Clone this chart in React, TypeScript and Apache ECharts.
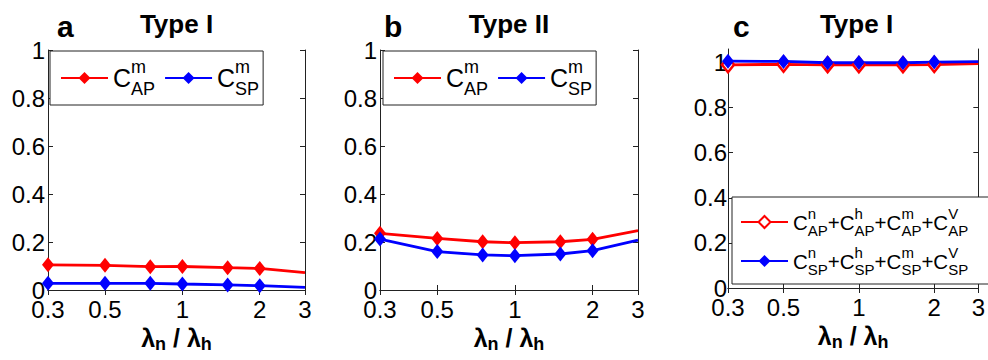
import React, { useEffect, useRef } from "react";
import * as echarts from "echarts";

const xValues = [0.3, 0.5, 0.75, 1, 1.5, 2, 3];
const xTicks = [0.3, 0.5, 1, 2, 3];
const yTicks = [0, 0.2, 0.4, 0.6, 0.8, 1];

const aAP = [0.105, 0.103, 0.097, 0.098, 0.093, 0.09, 0.072];
const aSP = [0.028, 0.028, 0.028, 0.025, 0.021, 0.018, 0.011];
const bAP = [0.236, 0.215, 0.201, 0.197, 0.201, 0.211, 0.247];
const bSP = [0.212, 0.16, 0.146, 0.143, 0.15, 0.164, 0.208];
const cAP = [0.99, 0.992, 0.99, 0.99, 0.99, 0.991, 0.995];
const cSP = [1.006, 1.005, 0.999, 1.0, 0.999, 1.002, 1.004];

const panelLetters = ["a", "b", "c"];
const panelTitles = ["Type I", "Type II", "Type I"];
const yMaxes = [1, 1, 1.06];

const FONT = "'Liberation Sans', Arial, Helvetica, sans-serif";
const AXIS = "#222";

const grids = [
  { left: 48, top: 50, width: 257, height: 240 },
  { left: 380, top: 50, width: 258, height: 240 },
  { left: 728, top: 49, width: 257, height: 239 },
];
const letterLeft = [57, 384, 733];

const richAB = {
  c: { fontSize: 25, fontFamily: FONT, color: "#000", lineHeight: 40, verticalAlign: "middle" },
  sup: { fontSize: 18, fontFamily: FONT, color: "#000", lineHeight: 16, verticalAlign: "top", width: 0, align: "left" },
  sub: { fontSize: 18, fontFamily: FONT, color: "#000", lineHeight: 22, verticalAlign: "bottom" },
};
const richC = {
  c: { fontSize: 20.5, fontFamily: FONT, color: "#000", lineHeight: 32, verticalAlign: "middle" },
  sup: { fontSize: 15, fontFamily: FONT, color: "#000", lineHeight: 12, verticalAlign: "top", width: 0, align: "left" },
  sub: { fontSize: 15, fontFamily: FONT, color: "#000", lineHeight: 16, verticalAlign: "bottom" },
};

function legendLabel(name: string): string {
  const [kind, sub] = name.trim().split("_");
  if (kind === "m") return `{c|C}{sup|m}{sub|${sub}}`;
  const sups = ["n", "h", "m", "V"];
  return sups.map((s, i) => `{c|${i ? "+C" : "C"}}{sup|${s}}{sub|${sub}}`).join("");
}

function lineSeries(name: string, values: number[], p: number, color: string, hollow = false) {
  return {
    type: "line",
    name,
    xAxisIndex: 2 * p,
    yAxisIndex: 2 * p,
    data: xValues.map((x, i) => ({
      value: [x, values[i]],
      symbol: i === xValues.length - 1 ? "none" : "diamond",
    })),
    symbol: "diamond",
    symbolSize: [12, 15],
    lineStyle: { width: 2.8, color },
    itemStyle: hollow ? { color: "#fff", borderColor: color, borderWidth: 2.5 } : { color },
    emphasis: { disabled: true },
  };
}

export default function App() {
  const ref = useRef<HTMLDivElement>(null);
  useEffect(() => {
    if (!ref.current) return;
    const chart = echarts.init(ref.current, null, { renderer: "svg" });
    const xAxes: any[] = [];
    const yAxes: any[] = [];
    grids.forEach((g, p) => {
      const common = {
        type: "log",
        logBase: 10,
        min: 0.3,
        max: 3,
        gridIndex: p,
        axisLine: { show: true, lineStyle: { color: AXIS, width: 1 } },
        axisTick: { show: true, inside: true, length: 5, customValues: xTicks, lineStyle: { color: AXIS } },
        splitLine: { show: false },
        minorTick: { show: false },
      };
      xAxes.push({
        ...common,
        position: "bottom",
        axisLabel: {
          show: true,
          customValues: xTicks,
          formatter: (v: number) => String(+Number(v).toPrecision(3)),
          fontSize: 24,
          fontFamily: FONT,
          color: "#000",
          margin: 7,
        },
        name: "{l|λ}{s|n}{l| / λ}{s|h}",
        nameLocation: "middle",
        nameGap: 30,
        nameTextStyle: {
          rich: {
            l: { fontSize: 25, fontWeight: "bold", fontFamily: FONT, color: "#000", lineHeight: 30, verticalAlign: "middle" },
            s: { fontSize: 18, fontWeight: "bold", fontFamily: FONT, color: "#000", lineHeight: 10, verticalAlign: "bottom" },
          },
        },
      });
      xAxes.push({ ...common, position: "top", axisLabel: { show: false } });
      const ycommon = {
        type: "value",
        min: 0,
        max: yMaxes[p],
        interval: 0.2,
        gridIndex: p,
        axisLine: { show: true, lineStyle: { color: AXIS, width: 1 } },
        axisTick: { show: true, inside: true, length: 5, customValues: yTicks, lineStyle: { color: AXIS } },
        splitLine: { show: false },
      };
      yAxes.push({
        ...ycommon,
        position: "left",
        axisLabel: {
          show: true,
          customValues: yTicks,
          fontSize: 24,
          fontFamily: FONT,
          color: "#000",
          margin: p === 2 ? 1 : 3,
        },
      });
      yAxes.push({ ...ycommon, position: "right", axisLabel: { show: false } });
    });

    const titles: any[] = [];
    grids.forEach((g, p) => {
      titles.push({
        text: panelTitles[p],
        left: g.left + g.width / 2,
        textAlign: "center",
        top: 11,
        padding: 0,
        textStyle: { fontSize: 26, fontWeight: "bold", fontFamily: FONT, color: "#000" },
      });
      titles.push({
        text: panelLetters[p],
        left: letterLeft[p],
        top: 11,
        padding: 0,
        textStyle: { fontSize: 30, fontWeight: "bold", fontFamily: FONT, color: "#000" },
      });
    });

    const legendBase = {
      backgroundColor: "#fff",
      borderColor: AXIS,
      borderWidth: 1,
      borderRadius: 0,
      itemWidth: 47,
      itemHeight: 15,
      selectedMode: false,
      formatter: legendLabel,
    };

    const option: any = {
      animation: false,
      backgroundColor: "#fff",
      title: titles,
      grid: grids.map((g) => ({ ...g, containLabel: false })),
      xAxis: xAxes,
      yAxis: yAxes,
      legend: [
        {
          ...legendBase,
          left: 50,
          top: 51,
          orient: "horizontal",
          padding: [7, 4, 7, 10],
          itemGap: 9,
          data: ["m_AP", "m_SP"],
          textStyle: { rich: richAB },
        },
        {
          ...legendBase,
          left: 383,
          top: 51,
          orient: "horizontal",
          padding: [7, 4, 7, 10],
          itemGap: 9,
          data: ["m_AP ", "m_SP "],
          textStyle: { rich: richAB },
        },
        {
          ...legendBase,
          left: 732,
          top: 197,
          orient: "vertical",
          padding: [9, 22, 7, 8],
          itemGap: 7,
          data: ["sum_AP", "sum_SP"],
          textStyle: { rich: richC },
        },
      ],
      series: [
        lineSeries("m_AP", aAP, 0, "#ff0000"),
        lineSeries("m_SP", aSP, 0, "#0000ff"),
        lineSeries("m_AP ", bAP, 1, "#ff0000"),
        lineSeries("m_SP ", bSP, 1, "#0000ff"),
        lineSeries("sum_AP", cAP, 2, "#ff0000", true),
        lineSeries("sum_SP", cSP, 2, "#0000ff"),
      ],
    };
    chart.setOption(option);
    return () => chart.dispose();
  }, []);
  return <div ref={ref} style={{ position: "absolute", left: 0, top: 0, width: 988, height: 360 }} />;
}
